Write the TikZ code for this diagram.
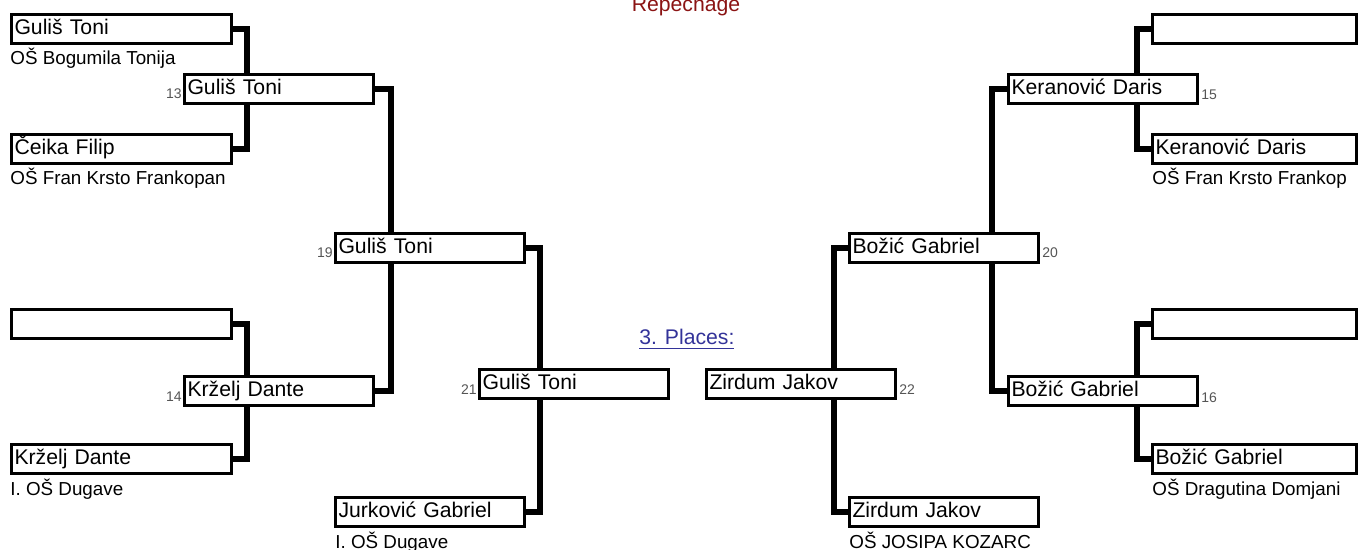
\documentclass[tikz,border=0pt]{standalone}
\usepackage{fontspec}
\setmainfont{Liberation Sans}
\usetikzlibrary{backgrounds}
\definecolor{repred}{RGB}{139,20,20}
\definecolor{linkblue}{RGB}{51,51,153}
\definecolor{numgray}{RGB}{85,85,85}

\begin{document}
\begin{tikzpicture}[x=0.5pt, y=-0.5pt,
    slot/.style={draw, line width=1.5pt, fill=white, anchor=north west,
      inner xsep=1.5pt, inner ysep=0pt, minimum height=14.5pt,
      text height=8pt, text depth=2.5pt, align=left,
      font=\fontsize{10.6}{12}\selectfont},
    wide/.style={slot, text width=107pt},
    side/.style={slot, text width=99pt},
    mid/.style={slot, text width=91.5pt},
    school/.style={anchor=base west, inner sep=0pt, font=\fontsize{9.4}{11}\selectfont},
    numl/.style={anchor=base east, inner sep=0pt, text=numgray, font=\fontsize{7}{8}\selectfont},
    numr/.style={anchor=base west, inner sep=0pt, text=numgray, font=\fontsize{7}{8}\selectfont},
    wire/.style={line width=2.6pt}]
    \useasboundingbox (0,0) rectangle (1364,550);

    % Title and 3rd place link
    \node[anchor=base, inner sep=0pt, text=repred, font=\fontsize{10.6}{12}\selectfont] (title) at (686,12) {Repechage};
    \node[anchor=base west, inner sep=0pt, text=linkblue, font=\fontsize{10.6}{12}\selectfont] (third) at (639,345) {\underline{3. Places:}};

    % Left side, first round
    \node[wide] (la) at (10,13) {Guliš Toni};
    \node[wide] (lb) at (10,133) {Čeika Filip};
    \node[wide] (lc) at (10,308) {};
    \node[wide] (ld) at (10,443) {Krželj Dante};
    \node[school] at ([yshift=-10pt]la.south west) {OŠ Bogumila Tonija};
    \node[school] at ([yshift=-10pt]lb.south west) {OŠ Fran Krsto Frankopan};
    \node[school] at ([yshift=-10pt]ld.south west) {I. OŠ Dugave};

    % Left side, later rounds
    \node[mid] (l13) at (183,73) {Guliš Toni};
    \node[mid] (l14) at (183,375) {Krželj Dante};
    \node[mid] (l19) at (334,232) {Guliš Toni};
    \node[mid] (l21) at (478,368) {Guliš Toni};
    \node[mid] (lrep) at (334,496) {Jurković Gabriel};
    \node[school] at ([xshift=0.5pt,yshift=-10pt]lrep.south west) {I. OŠ Dugave};
    \node[numl] at ([xshift=-0.5pt,yshift=3pt]l13.south west) {13};
    \node[numl] at ([xshift=-0.5pt,yshift=3pt]l14.south west) {14};
    \node[numl] at ([xshift=-0.5pt,yshift=3pt]l19.south west) {19};
    \node[numl] at ([xshift=-0.5pt,yshift=3pt]l21.south west) {21};

    % Right side, first round
    \node[side] (ra) at (1151,13) {};
    \node[side] (rb) at (1151,133) {Keranović Daris};
    \node[side] (rc) at (1151,308) {};
    \node[side] (rd) at (1151,443) {Božić Gabriel};
    \node[school] at ([xshift=0.5pt,yshift=-10pt]rb.south west) {OŠ Fran Krsto Frankop};
    \node[school] at ([xshift=0.5pt,yshift=-10pt]rd.south west) {OŠ Dragutina Domjani};

    % Right side, later rounds
    \node[mid] (r15) at (1007,73) {Keranović Daris};
    \node[mid] (r16) at (1007,375) {Božić Gabriel};
    \node[mid] (r20) at (848,232) {Božić Gabriel};
    \node[mid] (r22) at (705,368) {Zirdum Jakov};
    \node[mid] (rrep) at (848,496) {Zirdum Jakov};
    \node[school] at ([xshift=0.5pt,yshift=-10pt]rrep.south west) {OŠ JOSIPA KOZARC};
    \node[numr] at ([xshift=1pt,yshift=2.5pt]r15.south east) {15};
    \node[numr] at ([xshift=1pt,yshift=2.5pt]r16.south east) {16};
    \node[numr] at ([xshift=1pt,yshift=3pt]r20.south east) {20};
    \node[numr] at ([xshift=1pt,yshift=3pt]r22.south east) {22};

    % Connectors behind the boxes
    \begin{scope}[on background layer]
      \draw[wire] (la.east) -- ++(14,0) |- (lb.east);
      \draw[wire] (lc.east) -- ++(14,0) |- (ld.east);
      \draw[wire] (l13.east) -- ++(16,0) |- (l14.east);
      \draw[wire] (l19.east) -- ++(14,0) |- (lrep.east);
      \draw[wire] (ra.west) -- ++(-14,0) |- (rb.west);
      \draw[wire] (rc.west) -- ++(-14,0) |- (rd.west);
      \draw[wire] (r15.west) -- ++(-15,0) |- (r16.west);
      \draw[wire] (r20.west) -- ++(-14,0) |- (rrep.west);
    \end{scope}
\end{tikzpicture}
\end{document}
